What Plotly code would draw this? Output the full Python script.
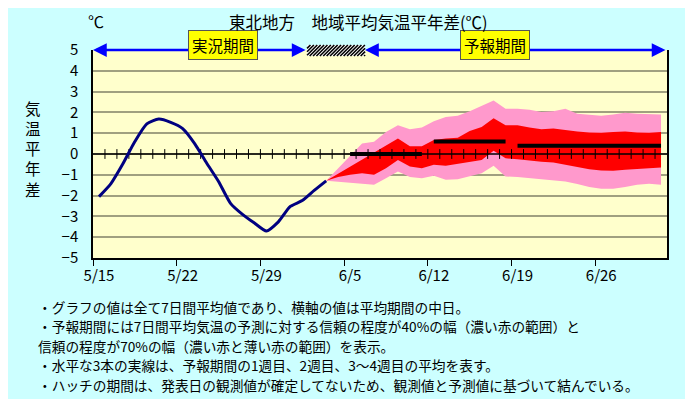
import plotly.graph_objects as go

# ---------------- data ----------------
x_tick_labels = ["5/15", "5/22", "5/29", "6/5", "6/12", "6/19", "6/26"]
x_tick_days = [0, 7, 14, 21, 28, 35, 42]          # day index from 5/15
n_days = 48                                         # 5/15 .. 7/1

obs_days = list(range(0, 20))                       # 5/15 .. 6/3
obs_values = [-2.05, -1.42, -0.47, 0.6, 1.45, 1.68, 1.52, 1.22, 0.5, -0.43,
              -1.32, -2.37, -2.9, -3.32, -3.7, -3.26, -2.52, -2.24, -1.75, -1.29]

fc_days = list(range(19, 48))                       # 6/3 .. 7/1
pink_hi = [-1.29, -0.68, -0.08, 0.51, 0.59, 1.06, 1.38, 1.19, 1.27, 1.57,
           1.78, 1.84, 2.06, 2.33, 2.57, 2.17, 2.17, 2.13, 2.02, 2.06,
           2.17, 1.94, 1.90, 1.84, 1.90, 1.98, 1.94, 1.92, 1.90]
red_hi = [-1.29, -0.95, -0.6, -0.27, 0.1, 0.4, 0.75, 0.37, 0.37, 0.67,
          0.75, 0.78, 1.1, 1.3, 1.72, 1.38, 1.38, 1.27, 1.19, 1.22,
          1.14, 1.08, 1.03, 1.02, 1.06, 1.08, 1.03, 1.02, 1.06]
red_lo = [-1.29, -1.1, -1.0, -0.92, -1.0, -0.68, -0.29, -0.6, -0.68, -0.52,
          -0.57, -0.48, -0.37, -0.29, 0.16, -0.21, -0.25, -0.32, -0.37, -0.41,
          -0.52, -0.63, -0.73, -0.79, -0.81, -0.76, -0.71, -0.68, -0.65]
pink_lo = [-1.29, -1.33, -1.38, -1.43, -1.48, -1.16, -0.84, -1.11, -1.16, -1.05,
           -1.24, -1.21, -1.08, -0.92, -0.57, -1.08, -1.11, -1.16, -1.24, -1.27,
           -1.32, -1.44, -1.59, -1.67, -1.67, -1.59, -1.48, -1.43, -1.48]

week_start = [21, 28, 35]
week_end = [27, 34, 47]
week_mean = [0.0, 0.6, 0.4]

hatch_start_day = 17.9
hatch_end_day = 22.75

notes = [
    "・グラフの値は全て7日間平均値であり、横軸の値は平均期間の中日。",
    "・予報期間には7日間平均気温の予測に対する信頼の程度が40%の幅（濃い赤の範囲）と",
    "信頼の程度が70%の幅（濃い赤と薄い赤の範囲）を表示。",
    "・水平な3本の実線は、予報期間の1週目、2週目、3～4週目の平均を表す。",
    "・ハッチの期間は、発表日の観測値が確定してないため、観測値と予測値に基づいて結んでいる。",
]

# ---------------- layout geometry ----------------
W, H = 693, 399
OFF = 8                      # page body offset
PX0, PX1, PY0, PY1 = 93, 667, 50, 258     # plot area in page pixels
L, T = PX0 - OFF, PY0 - OFF
R = W + OFF - PX1
B = H + OFF - PY1
PW, PH = PX1 - PX0, PY1 - PY0
FONT = "Noto Sans CJK JP, Noto Sans, sans-serif"


def px(xp):
    return (xp - PX0) / PW


def py(yp):
    return (PY1 - yp) / PH


def mid(days):
    return [d + 0.5 for d in days]


fig = go.Figure()

# bands
fig.add_trace(go.Scatter(x=mid(fc_days), y=pink_lo, mode="lines",
                         line=dict(width=0, color="rgba(0,0,0,0)"), hoverinfo="skip"))
fig.add_trace(go.Scatter(x=mid(fc_days), y=pink_hi, mode="lines", fill="tonexty",
                         fillcolor="#FF99CC", line=dict(width=0, color="rgba(0,0,0,0)")))
fig.add_trace(go.Scatter(x=mid(fc_days), y=red_lo, mode="lines",
                         line=dict(width=0, color="rgba(0,0,0,0)"), hoverinfo="skip"))
fig.add_trace(go.Scatter(x=mid(fc_days), y=red_hi, mode="lines", fill="tonexty",
                         fillcolor="#FF0000", line=dict(width=0, color="rgba(0,0,0,0)")))

# zero axis line with daily ticks
fig.add_trace(go.Scatter(x=[0, n_days], y=[0, 0], mode="lines",
                         line=dict(color="black", width=1.5), hoverinfo="skip"))
fig.add_trace(go.Scatter(x=list(range(1, n_days)), y=[0] * (n_days - 1), mode="markers",
                         marker=dict(symbol="line-ns", size=7, color="black",
                                     line=dict(color="black", width=1)),
                         hoverinfo="skip"))

# observed
fig.add_trace(go.Scatter(x=mid(obs_days), y=obs_values, mode="lines",
                         line=dict(color="#000080", width=3, shape="spline", smoothing=0.6)))

# weekly means
for s, e, v in zip(week_start, week_end, week_mean):
    fig.add_trace(go.Scatter(x=[s + 0.5, e + 0.5], y=[v, v], mode="lines",
                             line=dict(color="black", width=4)))

shapes = []
# hatch box
hx0, hx1 = PX0 + hatch_start_day * PW / n_days, PX0 + hatch_end_day * PW / n_days
hy0, hy1 = 45, 56
shapes.append(dict(type="rect", xref="paper", yref="paper",
                   x0=px(hx0), x1=px(hx1), y0=py(hy1), y1=py(hy0),
                   fillcolor="white", line=dict(width=0)))
hh = hy1 - hy0
c = hx0 - hh
while c < hx1:
    t0 = max(0, hx0 - c)
    t1 = min(hh, hx1 - c)
    if t1 > t0:
        shapes.append(dict(type="line", xref="paper", yref="paper",
                           x0=px(c + t0), y0=py(hy1 - t0),
                           x1=px(c + t1), y1=py(hy1 - t1),
                           line=dict(color="black", width=1.6)))
    c += 3.4

annotations = []
# arrows
for a, b in [(0, hatch_start_day), (hatch_end_day, n_days)]:
    annotations.append(dict(x=a, y=5, ax=b, ay=5, xref="x", yref="y", axref="x", ayref="y",
                            text="", showarrow=True, arrowside="end+start", arrowhead=2,
                            arrowsize=1.1, arrowwidth=2.5, arrowcolor="#0000FF",
                            standoff=0, startstandoff=0))


def label(xp, yp, text, size, **kw):
    d = dict(x=px(xp), y=py(yp), xref="paper", yref="paper", text=text,
             showarrow=False, xanchor="center", yanchor="middle",
             font=dict(size=size, color="black", family=FONT))
    d.update(kw)
    annotations.append(d)


# period labels
label(223, 44.5, "実況期間", 15.5, bgcolor="#FFFF00", bordercolor="#555555",
      borderwidth=1, borderpad=3)
label(495, 44.5, "予報期間", 15.5, bgcolor="#FFFF00", bordercolor="#555555",
      borderwidth=1, borderpad=3)
# title, unit, y title
label(358, 22, "東北地方　地域平均気温平年差(℃)", 16.5)
label(96, 21, "℃", 16)
label(33, 148, "<br>".join(list("気温平年差")), 15.5)
# notes
for k, line in enumerate(notes):
    label(36, 307 + 19.4 * k, line, 13.7, xanchor="left")

fig.update_layout(
    width=W, height=H,
    margin=dict(l=L, r=R, t=T, b=B, autoexpand=False),
    paper_bgcolor="#CCFFFF", plot_bgcolor="#FFFFCC",
    showlegend=False,
    font=dict(family=FONT, size=15, color="black"),
    shapes=shapes, annotations=annotations,
    xaxis=dict(range=[0, n_days], tickvals=x_tick_days, ticktext=x_tick_labels,
               ticks="outside", ticklen=6, tickcolor="black", tickwidth=1,
               ticklabelshift=6, ticklabelstandoff=-3, showgrid=False, zeroline=False,
               showline=True, linecolor="black", linewidth=1.5,
               tickfont=dict(size=15), automargin=False),
    yaxis=dict(range=[-5, 5], dtick=1, tick0=0, showgrid=True, gridcolor="#A0A080",
               gridwidth=1.5, zeroline=False, showline=True, linecolor="black",
               linewidth=1.5, mirror=True, ticks="", ticklabelstandoff=10,
               tickfont=dict(size=15), automargin=False),
)

fig.write_html("out.html")
